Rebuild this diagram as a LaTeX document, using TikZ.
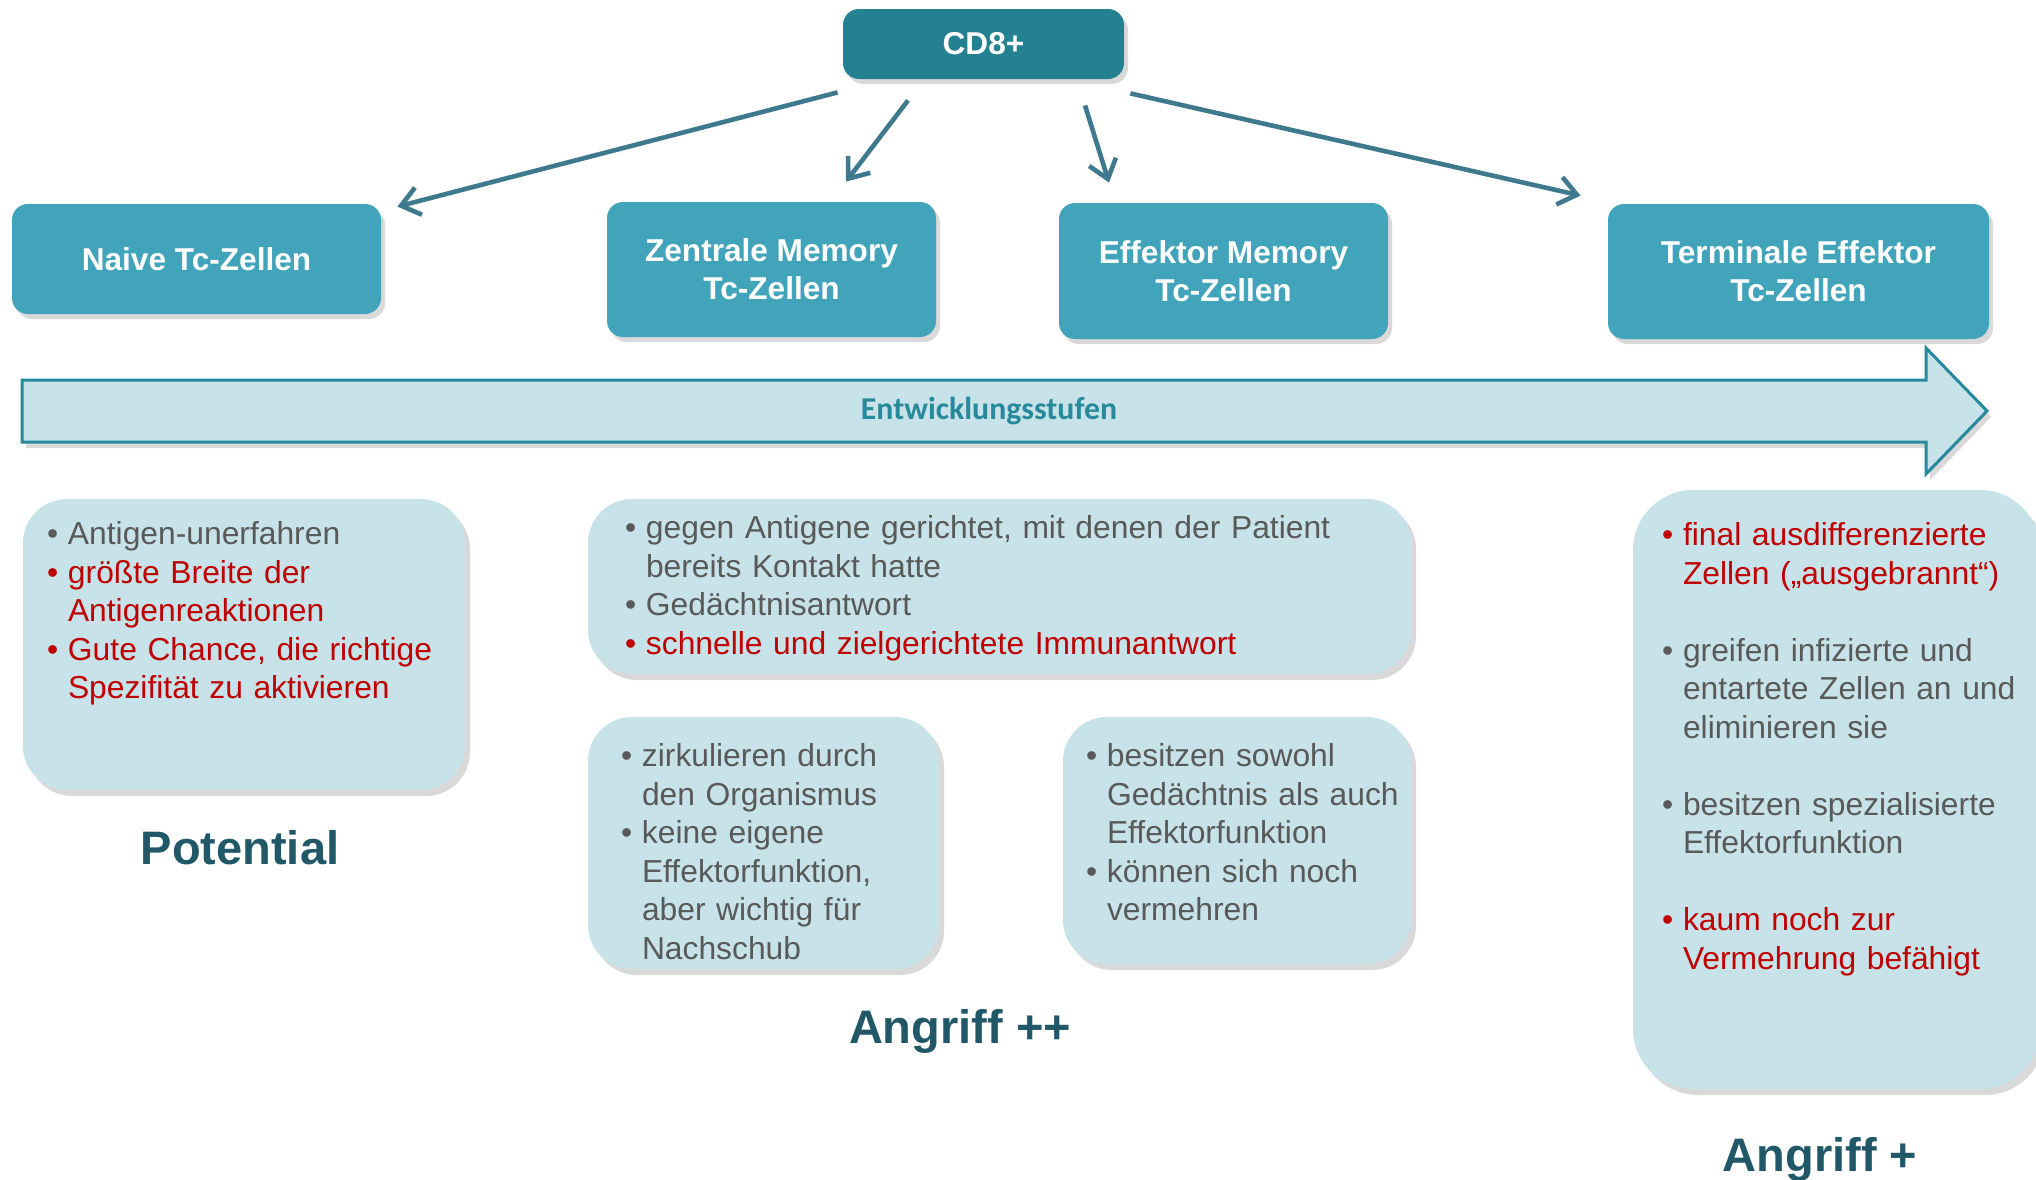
\documentclass[tikz,border=0pt]{standalone}
\usepackage{fontspec}
\setmainfont{Liberation Sans}
\newfontfamily\calibri{Carlito}
\usepackage{xcolor}
\usetikzlibrary{positioning,arrows.meta,shadows}

\definecolor{cdfill}{RGB}{35,129,145}
\definecolor{boxfill}{RGB}{66,164,187}
\definecolor{lightfill}{RGB}{199,227,233}
\definecolor{arrowc}{RGB}{62,121,142}
\definecolor{stufenc}{RGB}{38,137,156}
\definecolor{labelc}{RGB}{33,88,104}
\definecolor{greyt}{RGB}{89,89,89}
\definecolor{redt}{RGB}{192,0,0}

% bullet item and continuation line
\newcommand{\gi}[1]{\makebox[10.5pt][l]{\textbullet}#1}
\newcommand{\cont}{\hspace*{10.5pt}}

\begin{document}
\begin{tikzpicture}[x=0.5pt,y=-0.5pt,
    topbox/.style={rectangle,rounded corners=8pt,fill=boxfill,text=white,inner sep=0pt,
      font=\fontsize{15.8}{19}\selectfont\bfseries,align=center,
      drop shadow={opacity=.3,shadow xshift=2pt,shadow yshift=-2.5pt}},
    infobox/.style={rectangle,rounded corners=22pt,fill=lightfill,inner sep=0pt,
      drop shadow={opacity=.3,shadow xshift=2.5pt,shadow yshift=-3pt}},
    info/.style={anchor=base west,inner sep=0pt,text=greyt,align=left,
      font=\fontsize{15.9}{19.25}\selectfont},
    pfeil/.style={draw=arrowc,line width=2.3pt,-{Straight Barb[length=9pt,width=14pt]}},
    stage/.style={anchor=base,inner sep=0pt,text=labelc,font=\fontsize{23.5}{28}\selectfont\bfseries}]
  \useasboundingbox (0,0) rectangle (2036,1179);

  % cell types
  \node[topbox,fill=cdfill,minimum width=140.5pt,minimum height=35pt] (cd) at (983.5,44) {CD8+};
  \node[topbox,minimum width=184.5pt,minimum height=55pt] (naive) at (196.5,259) {Naive Tc-Zellen};
  \node[topbox,minimum width=164.5pt,minimum height=67.5pt] (zm) at (771.5,269.5) {Zentrale Memory\\Tc-Zellen};
  \node[topbox,minimum width=164.5pt,minimum height=68pt] (em) at (1223.5,271) {Effektor Memory\\Tc-Zellen};
  \node[topbox,minimum width=190.5pt,minimum height=67.5pt] (te) at (1798.5,271.5) {Terminale Effektor\\Tc-Zellen};

  \draw[pfeil] ([shift={(-5,13)}]cd.south west) -- ([shift={(16,3)}]naive.north east);
  \draw[pfeil] ([shift={(-75.5,21)}]cd.south) -- ([shift={(74.5,-20)}]zm.north);
  \draw[pfeil] ([shift={(101.5,26)}]cd.south) -- ([shift={(-114.5,-20)}]em.north);
  \draw[pfeil] ([shift={(6,14)}]cd.south east) -- ([shift={(-27,-8)}]te.north west);

  % stages arrow
  \draw[draw=stufenc,line width=1.5pt,fill=lightfill,
    drop shadow={opacity=.3,shadow xshift=2pt,shadow yshift=-3pt}]
    (22,380) -- (1926,380) -- (1926,348) -- (1987,411) -- (1926,474) -- (1926,442) -- (22,442) -- cycle;
  \node[text=stufenc,inner sep=0pt,font=\calibri\bfseries\fontsize{15.9}{19}\selectfont] (stufen) at (989,411) {Entwicklungsstufen};

  % description boxes
  \node[infobox,minimum width=221pt,minimum height=145.5pt] (pa) at (244,644.5) {};
  \node[infobox,minimum width=411.5pt,minimum height=87.5pt] (pb) at (999.5,586.5) {};
  \node[infobox,minimum width=175.5pt,minimum height=126pt] (pc) at (763.5,843) {};
  \node[infobox,minimum width=174pt,minimum height=123.5pt] (pd) at (1237,840.5) {};
  \node[infobox,rounded corners=30pt,minimum width=203.5pt,minimum height=299.5pt] (pe) at (1836.5,789.5) {};

  \node[info,text width=205pt] (ta) at ([shift={(24,46)}]pa.north west) {%
    \gi{Antigen-unerfahren}\\
    \color{redt}\gi{größte Breite der}\\
    \cont Antigenreaktionen\\
    \gi{Gute Chance, die richtige}\\
    \cont Spezifität zu aktivieren};
  \node[info,text width=400pt] (tb) at ([shift={(37,40)}]pb.north west) {%
    \gi{gegen Antigene gerichtet, mit denen der Patient}\\
    \cont bereits Kontakt hatte\\
    \gi{Gedächtnisantwort}\\
    \color{redt}\gi{schnelle und zielgerichtete Immunantwort}};
  \node[info,text width=160pt] (tc) at ([shift={(33,50)}]pc.north west) {%
    \gi{zirkulieren durch}\\
    \cont den Organismus\\
    \gi{keine eigene}\\
    \cont Effektorfunktion,\\
    \cont aber wichtig für\\
    \cont Nachschub};
  \node[info,text width=160pt] (td) at ([shift={(23,50)}]pd.north west) {%
    \gi{besitzen sowohl}\\
    \cont Gedächtnis als auch\\
    \cont Effektorfunktion\\
    \gi{können sich noch}\\
    \cont vermehren};
  \node[info,text width=190pt] (te2) at ([shift={(29,56)}]pe.north west) {%
    \color{redt}\gi{final ausdifferenzierte}\\
    \cont Zellen („ausgebrannt“)\\[19.25pt]
    \color{greyt}\gi{greifen infizierte und}\\
    \cont entartete Zellen an und\\
    \cont eliminieren sie\\[19.25pt]
    \gi{besitzen spezialisierte}\\
    \cont Effektorfunktion\\[19.25pt]
    \color{redt}\gi{kaum noch zur}\\
    \cont Vermehrung befähigt};

  % stage labels
  \node[stage] (pot) at (240,864) {Potential};
  \node[stage] (ang2) at (960,1043) {Angriff ++};
  \node[stage] (ang1) at (1820,1171) {Angriff +};
\end{tikzpicture}
\end{document}
